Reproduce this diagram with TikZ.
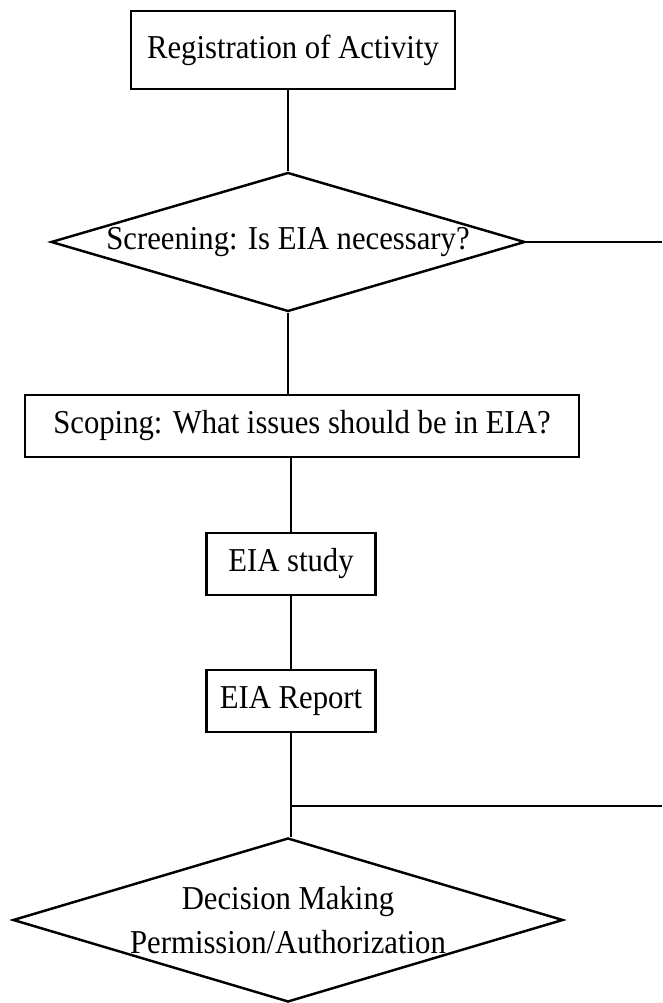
\documentclass[tikz,border=0pt]{standalone}
\usepackage{fontspec}
\setmainfont[FakeStretch=0.92]{Liberation Serif}
\usetikzlibrary{shapes.geometric}

\begin{document}
\begin{tikzpicture}[
		stepbox/.style={draw, line width=1.4pt, inner sep=0pt, align=center, font=\fontsize{19}{25.5}\selectfont},
		choice/.style={draw, diamond, line width=1.4pt, inner sep=0pt, align=center, font=\fontsize{19}{25.5}\selectfont},
		link/.style={line width=1.3pt},
		sidelink/.style={line width=1pt}
	]
			%%%%% START %%%%%
			
			\useasboundingbox (0, 0) rectangle (13.24, 20.06);
			
			\node[stepbox, minimum width=6.48cm, minimum height=1.56cm] (reg) at (5.86, 19.06) {Registration of Activity};
			
			\node[choice, aspect=3.41, minimum width=9.48cm, minimum height=2.78cm] (screen) at (5.76, 15.22) {Screening: Is EIA necessary?};
			
			\node[stepbox, minimum width=11.08cm, minimum height=1.24cm] (scope) at (6.04, 11.54) {Scoping: What issues should be in EIA?};
			
			\node[stepbox, minimum width=3.38cm, minimum height=1.24cm] (study) at (5.82, 8.78) {EIA study};
			\node[stepbox, minimum width=3.38cm, minimum height=1.24cm] (report) at (5.82, 6.04) {EIA Report};
			
			\node[choice, aspect=3.35, minimum width=11cm, minimum height=3.28cm] (decide) at (5.76, 1.66) {Decision Making\\Permission/Authorization};
			
			\coordinate (screenout) at (13.24, 15.26);
			\coordinate (reportout) at (13.24, 3.94);
			
			\draw[link] (screen.north |- reg.south) -- (screen.north);
			\draw[link] (screen.south) -- (screen.south |- scope.north);
			\draw[link] (study.north |- scope.south) -- (study.north);
			\draw[link] (study.south) -- (report.north);
			\draw[link] (report.south) -- (report.south |- decide.north);
			
			\draw[sidelink] (screen.east) -- (screenout |- screen.east);
			\draw[sidelink] (reportout -| report.south) -- (reportout);
			
			%%%%% END %%%%%
		\end{tikzpicture}
\end{document}
